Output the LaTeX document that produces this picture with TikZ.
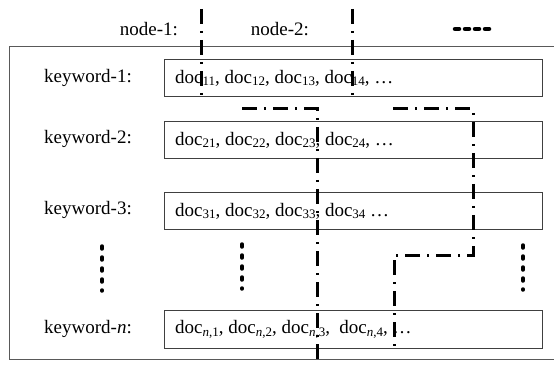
\documentclass[tikz,border=0pt]{standalone}
\usepackage{fontspec}
\setmainfont{Liberation Serif}
\newcommand\sbs[1]{\raisebox{-0.3ex}{\fontsize{13}{13}\selectfont #1}}
\begin{document}
\begin{tikzpicture}[x=1pt,y=-1pt,
  lbl/.style={font=\fontsize{19}{22}\selectfont, inner sep=0pt},
  listbox/.style={draw=black!75, line width=1.2pt, minimum width=378pt, minimum height=37pt, anchor=north west, inner sep=0pt},
  ddline/.style={line width=3pt, dash pattern=on 15pt off 7pt on 2pt off 7pt},
  dotcol/.style={line width=3.5pt, line cap=round, dash pattern=on 3pt off 8pt},
  frame/.style={draw=black!65, line width=1pt}
]
\useasboundingbox (0,0) rectangle (554,366);
% outer frame
\coordinate (f1) at (9,359);
\coordinate (f2) at (9,47);
\coordinate (f3) at (570,47);
\coordinate (f4) at (570,359);
\draw[frame] (f4) -- (f1) -- (f2) -- (f3);
% header labels
\node[lbl] (n1) at (149,29) {node-1:};
\node[lbl] (n2) at (280,29) {node-2:};
\coordinate (m0) at (455,29);
\coordinate (m1) at (489,29);
\draw[line width=4.5pt, line cap=round, dash pattern=on 4pt off 6pt] (m0) -- (m1);
% keyword labels
\node[lbl, anchor=east] (k1) at (132,77.5) {keyword-1:};
\node[lbl, anchor=east] (k2) at (132,139) {keyword-2:};
\node[lbl, anchor=east] (k3) at (132,210) {keyword-3:};
\node[lbl, anchor=east] (kn) at (132,329) {keyword-\textit{n}:};
% boxes
\node[listbox] (b1) at (164,59) {};
\node[listbox] (b2) at (164,121) {};
\node[listbox] (b3) at (164,192) {};
\node[listbox, minimum height=38pt] (bn) at (164,310) {};
% box texts
\node[lbl, anchor=west] (t1) at ([xshift=11pt]b1.west) {doc\sbs{11}, doc\sbs{12}, doc\sbs{13}, doc\sbs{14}, \dots};
\node[lbl, anchor=west] (t2) at ([xshift=11pt]b2.west) {doc\sbs{21}, doc\sbs{22}, doc\sbs{23}, doc\sbs{24}, \dots};
\node[lbl, anchor=west] (t3) at ([xshift=11pt]b3.west) {doc\sbs{31}, doc\sbs{32}, doc\sbs{33}, doc\sbs{34} \dots};
\node[lbl, anchor=west] (tn) at ([xshift=11pt]bn.west) {doc\sbs{\textit{n},1}, doc\sbs{\textit{n},2}, doc\sbs{\textit{n},3}, \ doc\sbs{\textit{n},4}, \dots};
% vertical dot columns
\coordinate (c1a) at (102,246); \coordinate (c1b) at (102,291);
\coordinate (c2a) at (242,244); \coordinate (c2b) at (242,289);
\coordinate (c3a) at (523,245); \coordinate (c3b) at (523,290);
\draw[dotcol] (c1a) -- (c1b);
\draw[dotcol] (c2a) -- (c2b);
\draw[dotcol] (c3a) -- (c3b);
% dash-dot partition lines
\coordinate (a0) at (201,9); \coordinate (a1) at (201,101);
\coordinate (p0) at (352,9); \coordinate (p1) at (352,101);
\draw[ddline] (a0) -- (a1);
\draw[ddline] (p0) -- (p1);
\coordinate (c0) at (242,109); \coordinate (c1) at (317,109); \coordinate (c2) at (317,366);
\draw[ddline] (c0) -- (c1) -- (c2);
\coordinate (d0) at (393,109); \coordinate (d1) at (473,109); \coordinate (d2) at (473,255);
\coordinate (d3) at (394,255); \coordinate (d4) at (394,350);
\draw[ddline] (d0) -- (d1) -- (d2) -- (d3) -- (d4);
\end{tikzpicture}
\end{document}
